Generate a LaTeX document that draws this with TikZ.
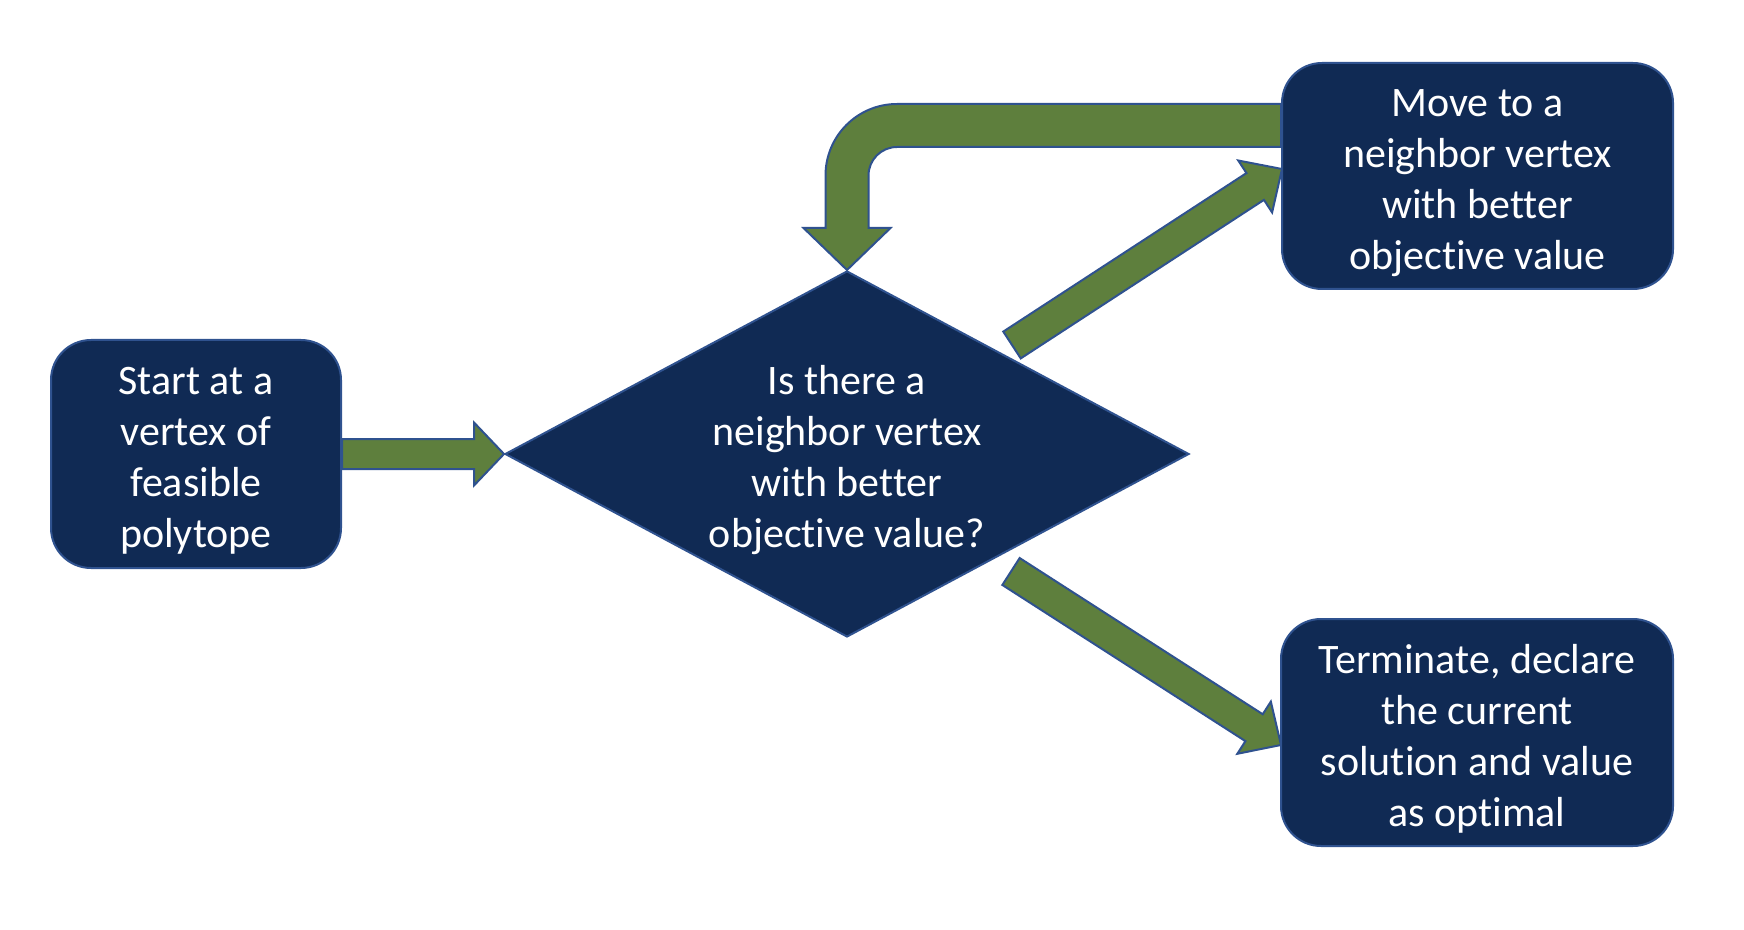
\documentclass[tikz,border=0pt]{standalone}
\usepackage{fontspec}
\setmainfont{Carlito}[Ligatures={NoCommon}]
\usetikzlibrary{shapes.geometric,calc,backgrounds}
\definecolor{navy}{HTML}{102A54}
\definecolor{rim}{HTML}{2F528F}
\definecolor{grn}{HTML}{5E7F3D}
\newcommand\tstrut{\rule{0pt}{20.5pt}}
\tikzset{
  box/.style={draw=rim, fill=navy, line width=1pt, rounded corners=20pt, text=white,
    align=center, font=\fontsize{21}{25.5}\selectfont, inner sep=0pt},
  decbox/.style={diamond, draw=rim, fill=navy, line width=1pt, text=white, align=center,
    font=\fontsize{21}{25.5}\selectfont, inner sep=0pt, aspect=1.87},
  arr/.style={draw=rim, fill=grn, line width=1pt, line join=miter}
}
\newcommand\blockarrow[5]{%
  \path let \p1=($(#2)-(#1)$), \n1={veclen(\x1,\y1)}, \n2={atan2(\y1,\x1)} in
    \pgfextra{\xdef\baLen{\n1}\xdef\baAng{\n2}};
  \begin{scope}[shift={(#1)},rotate=\baAng]
    \draw[arr] (0pt,-#3) -- (\baLen-#5,-#3) -- (\baLen-#5,-#4) -- (\baLen+0pt,0pt)
      -- (\baLen-#5,#4) -- (\baLen-#5,#3) -- (0pt,#3) -- cycle;
  \end{scope}}
\begin{document}
\begin{tikzpicture}[x=0.5pt,y=-0.5pt]
\useasboundingbox (0,0) rectangle (1744,930);
\node[box, minimum width=145pt, minimum height=114pt] (start) at (196,454)
  {\tstrut Start at a\\vertex of\\feasible\\polytope};
\node[decbox, minimum width=342pt, minimum height=183pt] (dec) at (847,454)
  {\tstrut Is there a\\neighbor vertex\\with better\\objective value?};
\node[box, minimum width=195.5pt, minimum height=113pt] (move) at (1477.5,176)
  {\tstrut Move to a\\neighbor vertex\\with better\\objective value};
\node[box, minimum width=196pt, minimum height=113.5pt] (term) at (1477,732.5)
  {\tstrut Terminate, declare\\the current\\solution and value\\as optimal};

\coordinate (uS) at (1012,345);
\coordinate (uT) at ($(move.west)+(1,-7)$);
\coordinate (dS) at (1011,571.5);
\coordinate (dT) at ($(term.west)+(1,12.5)$);
\coordinate (lA) at ($(move.west)+(0,-50.5)$);
\coordinate (lT) at (dec.north);

\begin{pgfonlayer}{background}
  \blockarrow{start.east}{dec.west}{7.5pt}{15.75pt}{15pt}
  \blockarrow{uS}{uT}{8pt}{15.5pt}{16pt}
  \blockarrow{dS}{dT}{8pt}{15.5pt}{16pt}
  \draw[arr] ($(lA)+(0,-21.5)$) -- ($(lT |- lA)+(50,-21.5)$)
    .. controls ($(lT |- lA)+(10.5,-21.5)$) and ($(lT |- lA)+(-21.5,10.5)$) .. ($(lT |- lA)+(-21.5,50)$)
    -- ($(lT)+(-21.5,-42)$) -- ($(lT)+(-43.5,-42)$) -- (lT) -- ($(lT)+(43.5,-42)$)
    -- ($(lT)+(21.5,-42)$) -- ($(lT |- lA)+(21.5,50)$)
    .. controls ($(lT |- lA)+(21.5,34.26)$) and ($(lT |- lA)+(34.26,21.5)$) .. ($(lT |- lA)+(50,21.5)$)
    -- ($(lA)+(0,21.5)$) -- cycle;
\end{pgfonlayer}
\end{tikzpicture}
\end{document}
